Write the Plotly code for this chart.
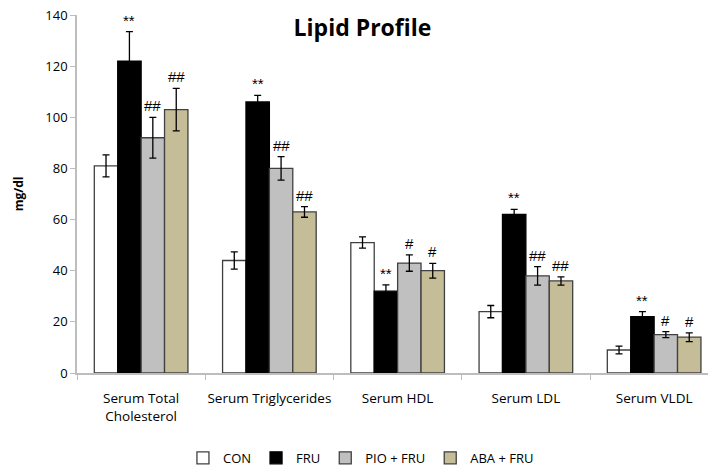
import plotly.graph_objects as go

categories = ["Serum Total<br>Cholesterol", "Serum Triglycerides", "Serum HDL", "Serum LDL", "Serum VLDL"]
series_names = ["CON", "FRU", "PIO + FRU", "ABA + FRU"]
con = [81, 44, 51, 24, 9]
fru = [122, 106, 32, 62, 22]
pio = [92, 80, 43, 38, 15]
aba = [103, 63, 40, 36, 14]
con_err = [4.3, 3.4, 2.2, 2.4, 1.5]
fru_err = [11.5, 2.6, 2.5, 2.0, 2.0]
pio_err = [8.0, 4.6, 3.2, 3.6, 1.2]
aba_err = [8.3, 2.1, 2.9, 1.6, 1.7]
fru_sig = ["**", "**", "**", "**", "**"]
pio_sig = ["##", "##", "#", "##", "#"]
aba_sig = ["##", "##", "#", "##", "#"]

values = [con, fru, pio, aba]
errors = [con_err, fru_err, pio_err, aba_err]
sigs = [None, fru_sig, pio_sig, aba_sig]
fills = ["#ffffff", "#000000", "#c0c0c0", "#c4bd97"]
lines = ["#404040", "#000000", "#404040", "#404040"]

bargap = 0.27
fig = go.Figure()
for name, v, e, fc, lc in zip(series_names, values, errors, fills, lines):
    fig.add_trace(go.Bar(
        x=categories, y=v, name=name,
        marker=dict(color=fc, line=dict(color=lc, width=1.3)),
        error_y=dict(type="data", array=e, visible=True, color="#000000", thickness=1.3, width=3.5),
    ))

n = len(series_names)
bw = (1 - bargap) / n
annotations = []
for s in range(n):
    if sigs[s] is None:
        continue
    off = (s - (n - 1) / 2) * bw
    for i in range(len(categories)):
        annotations.append(dict(
            x=i + off, y=values[s][i] + errors[s][i], xref="x", yref="y",
            text=sigs[s][i], showarrow=False, yanchor="bottom", yshift=1,
            font=dict(family="Liberation Sans", size=15, color="#000000"),
        ))

annotations.append(dict(
    x=-0.093, y=0.5, xref="paper", yref="paper", text="<b>mg/dl</b>", showarrow=False,
    xanchor="center", yanchor="middle",
    textangle=-90, font=dict(family="Open Sans", size=12, color="#000000"),
))

fig.update_layout(
    width=708, height=467,
    margin=dict(l=77, r=0, t=15, b=94, autoexpand=False),
    paper_bgcolor="#ffffff", plot_bgcolor="#ffffff",
    barmode="group", bargap=bargap, bargroupgap=0,
    title=dict(text="<b>Lipid Profile</b>", x=0.512, xanchor="center", y=0.94, yanchor="middle",
               font=dict(family="Open Sans", size=23, color="#000000")),
    showlegend=True,
    legend=dict(orientation="h", x=0.45, xanchor="center", y=-0.237, yanchor="middle",
                font=dict(family="Open Sans", size=13, color="#000000"), traceorder="normal",
                itemwidth=30),
    annotations=annotations,
    font=dict(family="Open Sans", size=13, color="#000000"),
)
fig.update_xaxes(
    type="category", range=[-0.5, 4.42], showline=True, linecolor="#bdbdbd", linewidth=1.5,
    ticks="outside", tickson="boundaries", ticklen=5, tickcolor="#bdbdbd", tickangle=0,
    automargin=False, ticklabelstandoff=12,
    showgrid=False, tickfont=dict(family="Open Sans", size=13.5, color="#000000"),
)
fig.update_yaxes(
    range=[0, 140], dtick=20, showline=True, linecolor="#bdbdbd", linewidth=1.5,
    ticks="outside", ticklen=5, tickcolor="#bdbdbd", showgrid=False, zeroline=False,
    automargin=False,
    tickfont=dict(family="Open Sans", size=13, color="#000000"),
)
fig.write_html("out.html", config={"displayModeBar": False},
               post_script="document.body.style.margin='0';")
